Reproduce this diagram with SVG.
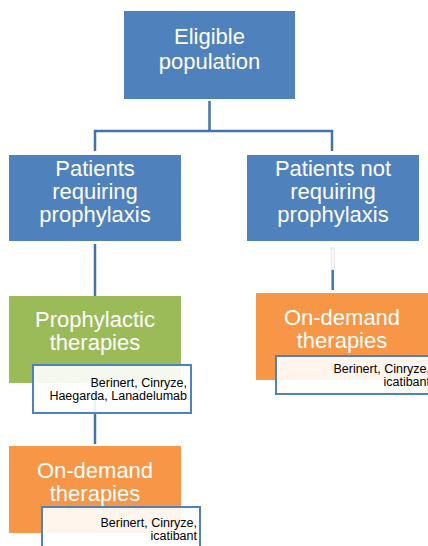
<svg xmlns="http://www.w3.org/2000/svg" width="428" height="546" viewBox="0 0 428 546">
<style>
.conn{fill:none;stroke:#4672AA;stroke-width:2.5}
.blue{fill:#4F81BD}
.green{fill:#9BBB59}
.orange{fill:#F79646}
.big{font-family:"Liberation Sans",Arial,sans-serif;font-size:22px;fill:#FFFFFF;text-anchor:middle}
.note{fill:#FFFFFF;fill-opacity:0.9;stroke:#4F81BD;stroke-width:2}
.small{font-family:"Liberation Sans",Arial,sans-serif;font-size:12.5px;fill:#000000;text-anchor:end}
</style>
<rect width="428" height="546" fill="#FFFFFF"/>
<g id="connectors">
<path class="conn" d="M209.5 101V131M95 151V131H332V151"/>
<path class="conn" d="M95 244V444"/>
<rect x="331.2" y="248" width="3" height="22" fill="none" stroke="#DCDCDC" stroke-width="0.8"/>
<path class="conn" d="M332.7 270V290"/>
</g>
<g id="eligible">
<rect class="blue" x="124" y="11" width="171" height="88"/>
<text class="big" x="209.5" y="44">Eligible</text>
<text class="big" x="209.5" y="68.5">population</text>
</g>
<g id="requiring">
<rect class="blue" x="9" y="155" width="172" height="86"/>
<text class="big" x="95" y="176">Patients</text>
<text class="big" x="95" y="199">requiring</text>
<text class="big" x="95" y="222">prophylaxis</text>
</g>
<g id="not-requiring">
<rect class="blue" x="247" y="155" width="172" height="86"/>
<text class="big" x="333" y="176">Patients not</text>
<text class="big" x="333" y="199">requiring</text>
<text class="big" x="333" y="222">prophylaxis</text>
</g>
<g id="prophylactic">
<rect class="green" x="9" y="296" width="172" height="87"/>
<text class="big" x="95" y="327">Prophylactic</text>
<text class="big" x="95" y="350">therapies</text>
<rect class="note" x="33" y="365" width="158" height="48"/>
<text class="small" x="187" y="386.5">Berinert, Cinryze,</text>
<text class="small" x="187" y="400">Haegarda, Lanadelumab</text>
</g>
<g id="ondemand-right">
<rect class="orange" x="256" y="293" width="172" height="87"/>
<text class="big" x="342" y="325">On-demand</text>
<text class="big" x="342" y="348">therapies</text>
<rect class="note" x="276" y="356" width="158" height="38"/>
<text class="small" x="430" y="372.5">Berinert, Cinryze,</text>
<text class="small" x="430" y="386">icatibant</text>
</g>
<g id="ondemand-left">
<rect class="orange" x="9" y="446" width="172" height="87"/>
<text class="big" x="95" y="478">On-demand</text>
<text class="big" x="95" y="501">therapies</text>
<rect class="note" x="42" y="507" width="158" height="45"/>
<text class="small" x="197" y="526.5">Berinert, Cinryze,</text>
<text class="small" x="197" y="540">icatibant</text>
</g>
</svg>
